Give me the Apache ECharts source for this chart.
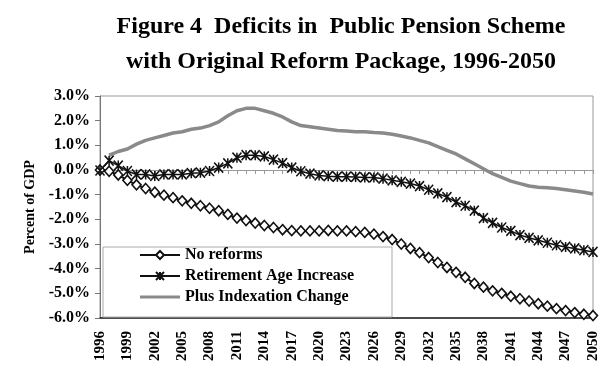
<!DOCTYPE html>
<html>
<head>
<meta charset="utf-8">
<script src="https://cdn.jsdelivr.net/npm/echarts@6/dist/echarts.min.js"></script>
<style>
  html, body { margin: 0; padding: 0; background: #fff; }
  #chart { width: 605px; height: 390px; }
</style>
</head>
<body>
<div id="chart"></div>
<script>
// years on the x axis
const years = []
for (let y = 1996; y <= 2050; y++) years.push(String(y))

// deficits, percent of GDP
const noReforms = [
  0, -0.05, -0.2, -0.42, -0.6, -0.75, -0.9, -1.02, -1.12, -1.25,
  -1.35, -1.45, -1.55, -1.65, -1.8, -1.95, -2.05, -2.15, -2.25, -2.33,
  -2.42, -2.46, -2.47, -2.47, -2.47, -2.45, -2.47, -2.47, -2.5, -2.53,
  -2.6, -2.7, -2.82, -3.0, -3.18, -3.35, -3.55, -3.75, -3.95, -4.15,
  -4.35, -4.6, -4.75, -4.9, -5.0, -5.12, -5.22, -5.31, -5.42, -5.52,
  -5.62, -5.7, -5.78, -5.85, -5.9
]
const retirementAge = [
  -0.02, 0.38, 0.18, -0.04, -0.18, -0.18, -0.24, -0.18, -0.18, -0.18,
  -0.13, -0.11, -0.04, 0.1, 0.27, 0.5, 0.6, 0.6, 0.55, 0.42,
  0.28, 0.1, -0.05, -0.15, -0.22, -0.25, -0.27, -0.27, -0.28, -0.3,
  -0.3, -0.35, -0.42, -0.48, -0.55, -0.65, -0.8, -0.95, -1.1, -1.3,
  -1.45, -1.65, -1.95, -2.14, -2.33, -2.47, -2.64, -2.75, -2.85, -2.95,
  -3.05, -3.12, -3.18, -3.25, -3.32
]
const indexation = [
  null, 0.6, 0.75, 0.85, 1.05, 1.2, 1.3, 1.4, 1.5, 1.55,
  1.65, 1.7, 1.8, 1.95, 2.2, 2.4, 2.5, 2.5, 2.4, 2.3,
  2.15, 1.95, 1.8, 1.75, 1.7, 1.65, 1.6, 1.58, 1.55, 1.55,
  1.52, 1.5, 1.45, 1.38, 1.3, 1.2, 1.1, 0.95, 0.8, 0.65,
  0.45, 0.25, 0.05, -0.15, -0.3, -0.45, -0.55, -0.65, -0.7, -0.72,
  -0.75, -0.8, -0.85, -0.9, -0.97
]

const serif = '"Liberation Serif", "DejaVu Serif", serif'
const starPath = 'path://M0,0L10,10M10,0L0,10M5,0L5,10M0,0L0,0'

const chart = echarts.init(document.getElementById('chart'))
chart.setOption({
  backgroundColor: '#fff',
  animation: false,
  title: {
    text: 'Figure 4  Deficits in  Public Pension Scheme\nwith Original Reform Package, 1996-2050',
    left: 336,
    top: 4,
    textAlign: 'center',
    textStyle: {
      fontFamily: serif,
      fontWeight: 'bold',
      fontSize: 24,
      lineHeight: 35,
      color: '#000'
    }
  },
  grid: {
    left: 100,
    right: 12,
    top: 96,
    bottom: 72,
    show: true,
    borderColor: '#999',
    borderWidth: 1
  },
  graphic: [{
    type: 'rect',
    shape: { x: 103, y: 247, width: 289, height: 70 },
    style: { fill: '#fff', stroke: '#aaa', lineWidth: 1 },
    z: 5
  }],
  legend: {
    orient: 'vertical',
    left: 139,
    top: 247,
    padding: 0,
    itemGap: 5,
    itemWidth: 40,
    itemHeight: 10,
    z: 10,
    textStyle: {
      fontFamily: serif,
      fontWeight: 'bold',
      fontSize: 16,
      color: '#000'
    },
    data: [
      'No reforms',
      'Retirement Age Increase',
      { name: 'Plus Indexation Change', icon: 'path://M0,0L40,0L40,3L0,3Z' }
    ]
  },
  xAxis: [{
    type: 'category',
    data: years,
    boundaryGap: false,
    axisLine: { onZero: false, lineStyle: { color: '#222', width: 1.5 } },
    axisTick: { show: false },
    axisLabel: {
      interval: 2,
      rotate: 90,
      margin: 13,
      fontFamily: serif,
      fontWeight: 'bold',
      fontSize: 15,
      color: '#000'
    },
    splitLine: { show: false }
  }, {
    type: 'category',
    data: years,
    boundaryGap: false,
    position: 'bottom',
    axisLine: { onZero: true, lineStyle: { color: '#999', width: 1 } },
    axisTick: { show: true, inside: false, length: 4, interval: 0, lineStyle: { color: '#999' } },
    axisLabel: { show: false },
    splitLine: { show: false }
  }],
  yAxis: {
    type: 'value',
    min: -6,
    max: 3,
    interval: 1,
    name: 'Percent of GDP',
    nameLocation: 'middle',
    nameGap: 58,
    nameTextStyle: {
      fontFamily: serif,
      fontWeight: 'bold',
      fontSize: 14,
      color: '#000'
    },
    axisLine: { show: true, lineStyle: { color: '#777' } },
    axisTick: { show: true, length: 5, lineStyle: { color: '#777' } },
    axisLabel: {
      margin: 10,
      fontFamily: serif,
      fontWeight: 'bold',
      fontSize: 16,
      color: '#000',
      formatter: v => v.toFixed(1) + '%'
    },
    splitLine: { show: false }
  },
  series: [{
    name: 'No reforms',
    type: 'line',
    data: noReforms,
    symbol: 'diamond',
    symbolSize: [9, 10],
    showAllSymbol: true,
    lineStyle: { color: '#111', width: 2 },
    itemStyle: { color: '#fff', borderColor: '#111', borderWidth: 1.6 },
    z: 3
  }, {
    name: 'Retirement Age Increase',
    type: 'line',
    data: retirementAge,
    symbol: starPath,
    symbolSize: [9, 10],
    showAllSymbol: true,
    lineStyle: { color: '#111', width: 1.5 },
    itemStyle: { color: '#111', borderColor: '#111', borderWidth: 1.6 },
    z: 3
  }, {
    name: 'Plus Indexation Change',
    type: 'line',
    data: indexation,
    symbol: 'none',
    lineStyle: { color: '#8a8a8a', width: 3.5 },
    itemStyle: { color: '#8a8a8a' },
    z: 3
  }]
})
</script>
</body>
</html>
